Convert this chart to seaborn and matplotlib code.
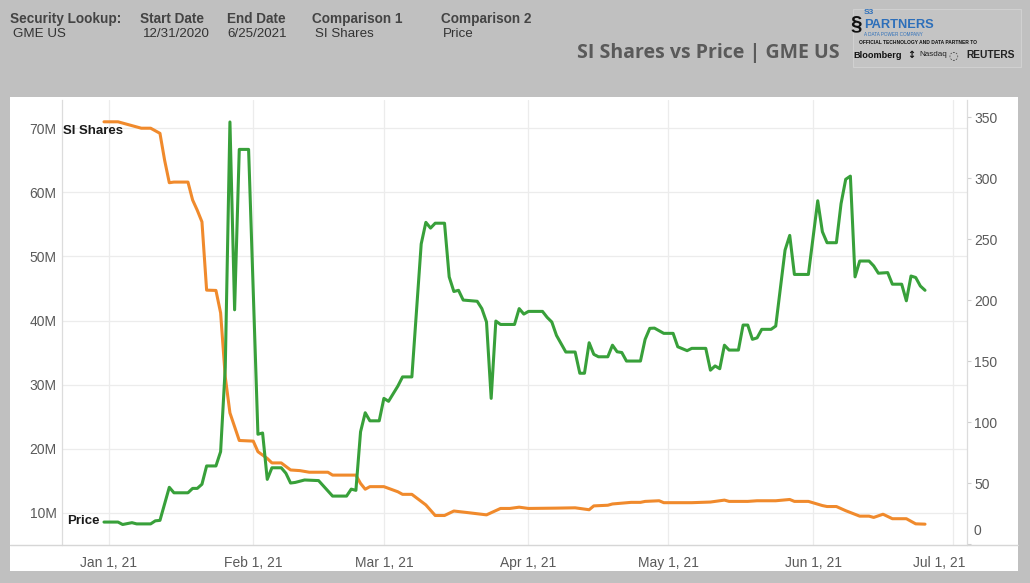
import numpy as np
import pandas as pd
import matplotlib
matplotlib.use("Agg")
import matplotlib.pyplot as plt
from matplotlib.transforms import ScaledTranslation
from matplotlib.lines import Line2D
from matplotlib.patches import Rectangle
import seaborn as sns

# ---------------- data ----------------
si_dates = [
    "2020-12-31",
    "2021-01-03", "2021-01-05", "2021-01-08", "2021-01-10", "2021-01-12", "2021-01-13", "2021-01-14",
    "2021-01-15", "2021-01-18", "2021-01-19", "2021-01-20", "2021-01-21", "2021-01-22", "2021-01-24",
    "2021-01-25", "2021-01-26", "2021-01-27", "2021-01-28", "2021-01-29",
    "2021-02-01", "2021-02-02", "2021-02-04", "2021-02-05", "2021-02-07", "2021-02-09", "2021-02-11",
    "2021-02-13", "2021-02-17", "2021-02-18", "2021-02-23", "2021-02-24", "2021-02-25", "2021-02-26",
    "2021-03-01", "2021-03-04", "2021-03-05", "2021-03-07", "2021-03-10", "2021-03-12", "2021-03-14",
    "2021-03-16", "2021-03-19", "2021-03-23", "2021-03-26", "2021-03-28", "2021-03-30",
    "2021-04-01", "2021-04-07", "2021-04-11", "2021-04-14", "2021-04-15", "2021-04-18", "2021-04-19",
    "2021-04-23", "2021-04-25", "2021-04-26", "2021-04-29", "2021-04-30",
    "2021-05-06", "2021-05-10", "2021-05-13", "2021-05-14", "2021-05-18", "2021-05-20", "2021-05-24",
    "2021-05-27", "2021-05-28", "2021-05-31",
    "2021-06-03", "2021-06-04", "2021-06-06", "2021-06-08", "2021-06-11", "2021-06-13", "2021-06-14",
    "2021-06-16", "2021-06-18", "2021-06-21", "2021-06-23", "2021-06-25",
]
si_shares_m = [
    71.0,
    71.0, 70.6, 70.0, 70.0, 69.2, 65.0, 61.5,
    61.6, 61.6, 58.8, 57.2, 55.4, 44.75, 44.7,
    41.2, 31.2, 25.6, 23.45, 21.3,
    21.2, 19.55, 18.5, 17.8, 17.8, 16.7, 16.6,
    16.35, 16.35, 15.9, 15.9, 14.6, 13.7, 14.1,
    14.1, 13.3, 12.9, 12.9, 11.25, 9.6, 9.6,
    10.3, 10.05, 9.7, 10.7, 10.7, 10.9,
    10.7, 10.75, 10.8, 10.5, 11.1, 11.2, 11.4,
    11.65, 11.65, 11.8, 11.9, 11.6,
    11.6, 11.7, 12.0, 11.8, 11.8, 11.9, 11.9,
    12.1, 11.8, 11.8,
    11.15, 11.0, 11.0, 10.35, 9.5, 9.5, 9.3,
    9.8, 9.1, 9.1, 8.3, 8.25,
]

price_dates = [
    "2020-12-31",
    "2021-01-03", "2021-01-04", "2021-01-06", "2021-01-07", "2021-01-10", "2021-01-11", "2021-01-12",
    "2021-01-14", "2021-01-15", "2021-01-18", "2021-01-19", "2021-01-20", "2021-01-21", "2021-01-22",
    "2021-01-24", "2021-01-25", "2021-01-26", "2021-01-27", "2021-01-28", "2021-01-29", "2021-01-31",
    "2021-02-02", "2021-02-03", "2021-02-04", "2021-02-05", "2021-02-07", "2021-02-08", "2021-02-09",
    "2021-02-10", "2021-02-12", "2021-02-15", "2021-02-18", "2021-02-21", "2021-02-22", "2021-02-23",
    "2021-02-24", "2021-02-25", "2021-02-26", "2021-02-28",
    "2021-03-01", "2021-03-02", "2021-03-04", "2021-03-05", "2021-03-07", "2021-03-09", "2021-03-10",
    "2021-03-11", "2021-03-12", "2021-03-14", "2021-03-15", "2021-03-16", "2021-03-17", "2021-03-18",
    "2021-03-21", "2021-03-22", "2021-03-23", "2021-03-24", "2021-03-25", "2021-03-26", "2021-03-29",
    "2021-03-30", "2021-03-31",
    "2021-04-01", "2021-04-04", "2021-04-05", "2021-04-06", "2021-04-07", "2021-04-09", "2021-04-11",
    "2021-04-12", "2021-04-13", "2021-04-14", "2021-04-15", "2021-04-16", "2021-04-18", "2021-04-19",
    "2021-04-20", "2021-04-21", "2021-04-22", "2021-04-25", "2021-04-26", "2021-04-27", "2021-04-28",
    "2021-04-30",
    "2021-05-02", "2021-05-03", "2021-05-05", "2021-05-06", "2021-05-09", "2021-05-10", "2021-05-11",
    "2021-05-12", "2021-05-13", "2021-05-14", "2021-05-16", "2021-05-17", "2021-05-18", "2021-05-19",
    "2021-05-20", "2021-05-21", "2021-05-23", "2021-05-24", "2021-05-26", "2021-05-27", "2021-05-28",
    "2021-05-31",
    "2021-06-02", "2021-06-03", "2021-06-04", "2021-06-06", "2021-06-07", "2021-06-08", "2021-06-09",
    "2021-06-10", "2021-06-11", "2021-06-13", "2021-06-14", "2021-06-15", "2021-06-17", "2021-06-18",
    "2021-06-20", "2021-06-21", "2021-06-22", "2021-06-23", "2021-06-24", "2021-06-25",
]
price_usd = [
    18.0,
    18.0, 16.0, 17.5, 16.5, 16.5, 19.0, 19.4,
    46.5, 42.0, 42.0, 45.6, 45.6, 49.0, 64.0,
    64.0, 75.7, 145.0, 346.0, 192.0, 323.5, 323.5,
    90.0, 91.0, 53.0, 62.5, 62.5, 58.0, 50.0,
    50.5, 52.5, 52.0, 39.3, 39.3, 45.0, 44.0,
    92.0, 107.6, 101.0, 101.0,
    119.4, 117.0, 129.5, 137.0, 137.0, 246.0, 263.7,
    259.0, 263.0, 263.0, 219.0, 207.0, 208.0, 200.0,
    199.0, 193.0, 182.0, 119.4, 182.8, 180.0, 180.0,
    193.0, 188.5,
    190.7, 190.7, 185.8, 182.0, 171.0, 157.4, 157.4,
    140.0, 140.0, 165.0, 155.5, 153.5, 153.5, 163.0,
    157.6, 157.0, 150.0, 150.0, 167.8, 176.8, 177.0,
    172.7,
    172.7, 161.7, 158.5, 160.4, 160.4, 142.5, 146.0,
    143.7, 163.0, 159.0, 159.0, 179.5, 179.5, 167.8,
    169.0, 176.0, 176.0, 178.7, 241.0, 253.0, 221.0,
    221.0,
    281.4, 256.0, 247.0, 247.0, 279.0, 299.0, 301.6,
    219.0, 232.0, 232.0, 228.0, 222.0, 222.5, 213.0,
    213.0, 199.4, 219.7, 218.5, 211.5, 208.0,
]

left_ticks = [10, 20, 30, 40, 50, 60, 70]
left_tick_labels = ["10M", "20M", "30M", "40M", "50M", "60M", "70M"]
right_ticks = [0, 50, 100, 150, 200, 250, 300, 350]
x_tick_dates = ["2021-01-01", "2021-02-01", "2021-03-01", "2021-04-01",
                "2021-05-01", "2021-06-01", "2021-07-01"]
x_tick_labels = ["Jan 1, 21", "Feb 1, 21", "Mar 1, 21", "Apr 1, 21",
                 "May 1, 21", "Jun 1, 21", "Jul 1, 21"]

header_keys = ["Security Lookup:", "Start Date", "End Date", "Comparison 1", "Comparison 2"]
header_vals = ["GME US", "12/31/2020", "6/25/2021", "SI Shares", "Price"]
title_text = "SI Shares vs Price | GME US"

assert len(si_dates) == len(si_shares_m)
assert len(price_dates) == len(price_usd)

# ---------------- style ----------------
sns.set_theme(style="white")
plt.rcParams["font.family"] = ["Liberation Sans", "DejaVu Sans"]

W, H = 1030, 583
BG = "#c0c0c0"
ORANGE = "#f08a2c"
GREEN = "#38a03a"
GRID = "#ececec"
TICKC = "#5a5a5a"

fig = plt.figure(figsize=(W / 100, H / 100), dpi=100, facecolor=BG)


def fx(x):
    return x / W


def fy(y):
    return 1 - y / H


# white panel (behind the axes)
panel = Rectangle((fx(10), fy(571)), fx(1018) - fx(10), fy(97) - fy(571),
                  transform=fig.transFigure, facecolor="white", edgecolor="none", zorder=-10)
fig.patches.append(panel)

ax = fig.add_axes([fx(62), fy(545), fx(967) - fx(62), fy(100) - fy(545)])
ax.set_facecolor("none")

df_si = pd.DataFrame({"date": pd.to_datetime(si_dates), "si": si_shares_m})
df_px = pd.DataFrame({"date": pd.to_datetime(price_dates), "price": price_usd})

sns.lineplot(data=df_si, x="date", y="si", ax=ax, color=ORANGE, lw=2.2)
ax2 = ax.twinx()
ax2.set_facecolor("none")
sns.lineplot(data=df_px, x="date", y="price", ax=ax2, color=GREEN, lw=2.2)

ax.set_xlim(pd.Timestamp("2020-12-22"), pd.Timestamp("2021-07-04"))
ax.set_ylim(5.0, 74.4)
ax2.set_ylim(-0.8, 364)

for a in (ax, ax2):
    a.set_xlabel("")
    a.set_ylabel("")

ax.set_xticks(pd.to_datetime(x_tick_dates))
ax.set_xticklabels(x_tick_labels)
ax.set_yticks(left_ticks)
ax.set_yticklabels(left_tick_labels)
ax2.set_yticks(right_ticks)
ax2.set_yticklabels([str(v) for v in right_ticks])

ax.grid(True, color=GRID, lw=0.9)
ax2.grid(False)
ax.set_axisbelow(True)

ax.tick_params(axis="y", length=0, pad=4, labelsize=10, labelcolor=TICKC)
ax.tick_params(axis="x", length=0, pad=8, labelsize=10, labelcolor=TICKC)
ax2.tick_params(axis="y", length=3, width=0.8, color="#cfcfcf", pad=2,
                labelsize=10, labelcolor=TICKC)

for a in (ax, ax2):
    for s in ("top", "bottom"):
        a.spines[s].set_visible(False)
    for s in ("left", "right"):
        a.spines[s].set_color("#dcdcdc")
        a.spines[s].set_linewidth(0.9)
ax.spines["right"].set_visible(False)
ax2.spines["left"].set_visible(False)

# nudge last x label (Jul) and the 0 label as in the reference
lab = ax.get_xticklabels()[-1]
lab.set_transform(lab.get_transform() + ScaledTranslation(-0.14, 0, fig.dpi_scale_trans))
lab0 = ax2.get_yticklabels()[0]
lab0.set_transform(lab0.get_transform() + ScaledTranslation(0, 0.15, fig.dpi_scale_trans))

# bottom axis line across the panel
fig.lines.append(Line2D([fx(10), fx(1018)], [fy(545), fy(545)], transform=fig.transFigure,
                        color="#d6d6d6", lw=1.0))

# line labels
fig.text(fx(63), fy(131), "SI Shares", fontsize=9.5, fontweight="bold", color="#1a1a1a",
         ha="left", va="center")
fig.text(fx(67), fy(521), "Price", fontsize=9.5, fontweight="bold", color="#1a1a1a",
         ha="left", va="center")

# header
key_x = [10, 140, 227, 312, 441]
val_x = [13, 143, 227, 315, 443]
for k, v, kx, vx in zip(header_keys, header_vals, key_x, val_x):
    fig.text(fx(kx), fy(19), k, fontsize=9.8, fontweight="bold", color="#444444",
             ha="left", va="center")
    fig.text(fx(vx), fy(34), v, fontsize=9.6, color="#333333", ha="left", va="center")

fig.text(fx(577), fy(53), title_text, fontsize=14, fontweight="bold", color="#5a5a5a",
         family=["Open Sans", "DejaVu Sans"], ha="left", va="center")

# logo block
fig.patches.append(Rectangle((fx(853), fy(67)), fx(1021) - fx(853), fy(9) - fy(67),
                             transform=fig.transFigure, facecolor="#c4c4c4",
                             edgecolor="#d0d0d0", lw=0.8, zorder=-10))
fig.text(fx(851), fy(24), "§", fontsize=15, fontweight="bold", color="#111111",
         ha="left", va="center")
fig.text(fx(864), fy(13), "S3", fontsize=6, fontweight="bold", color="#2d6fba",
         ha="left", va="center")
fig.text(fx(864), fy(25), "PARTNERS", fontsize=9.3, fontweight="bold", color="#2d6fba",
         ha="left", va="center")
fig.text(fx(864), fy(34), "A DATA POWER COMPANY", fontsize=3.3, color="#2d6fba",
         ha="left", va="center")
fig.text(fx(859), fy(42), "OFFICIAL TECHNOLOGY AND DATA PARTNER TO", fontsize=3.5,
         fontweight="bold", color="#111111", ha="left", va="center")
fig.text(fx(853), fy(55), "Bloomberg", fontsize=6.6, fontweight="bold", color="#111111",
         ha="left", va="center")
fig.text(fx(907), fy(55), "\u2195", fontsize=7, fontweight="bold", color="#111111",
         ha="left", va="center", family=["DejaVu Sans"])
fig.text(fx(919), fy(55), "Nasdaq", fontsize=5.8, color="#222222", ha="left", va="center")
fig.text(fx(948), fy(55), "\u25CC", fontsize=8, color="#333333", ha="left", va="center",
         family=["DejaVu Sans"])
fig.text(fx(966), fy(55), "REUTERS", fontsize=7.4, fontweight="bold", color="#222222",
         ha="left", va="center")

fig.savefig("out.png", dpi=100, facecolor=BG)
